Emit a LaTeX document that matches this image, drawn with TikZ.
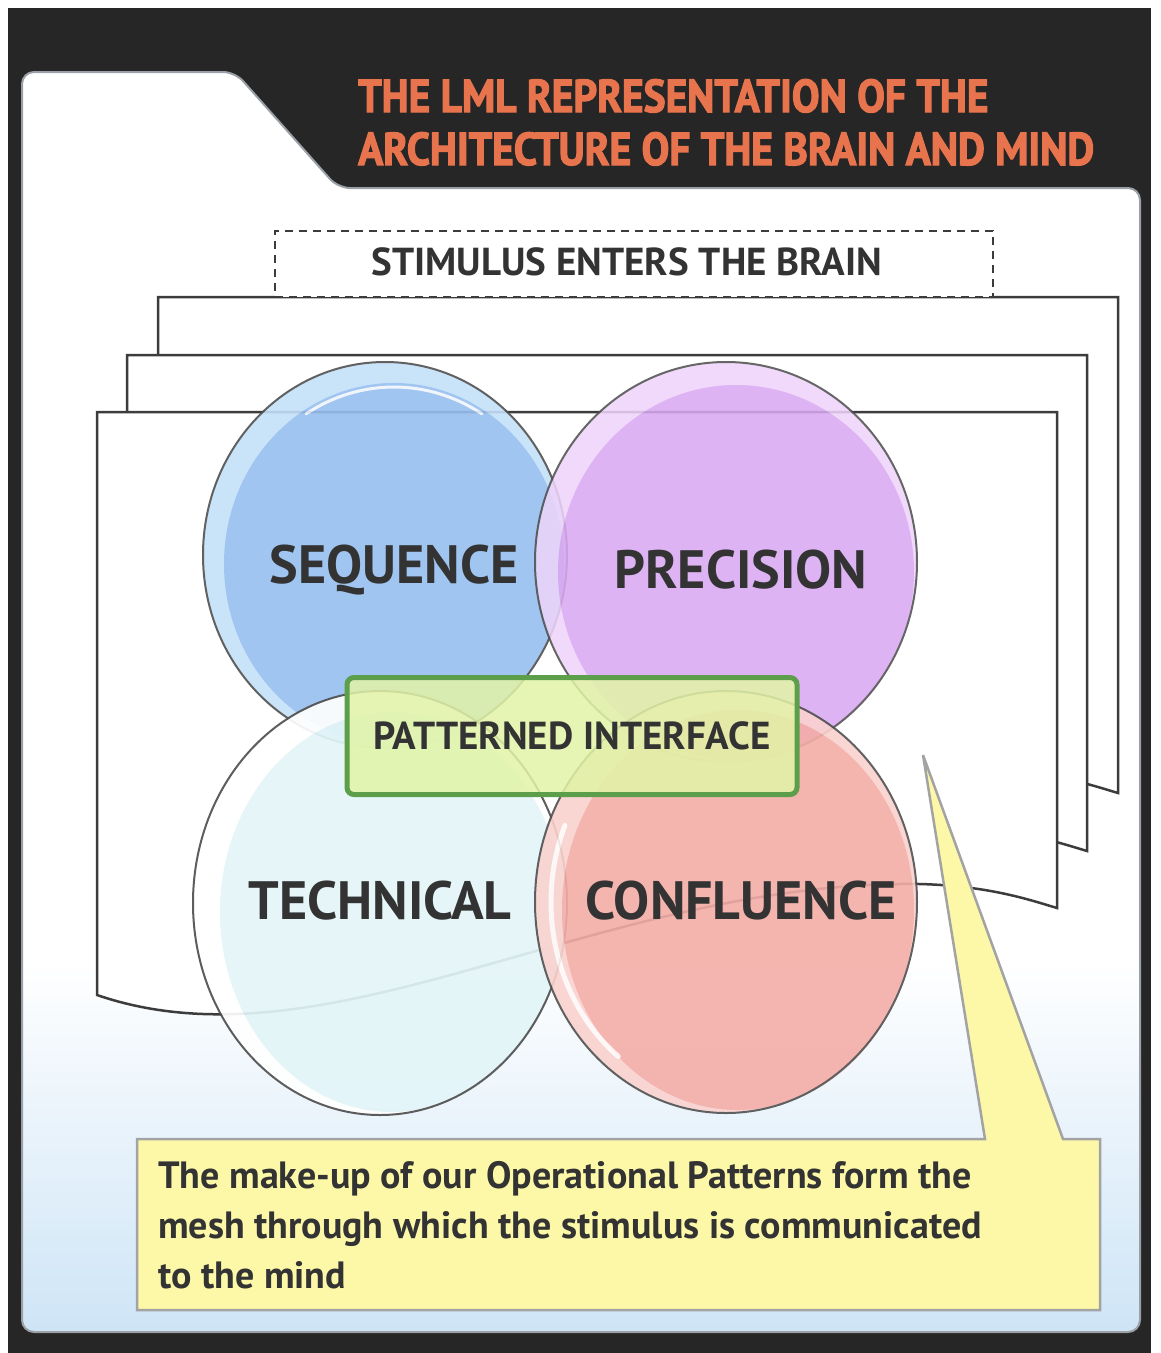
\documentclass[tikz,border=0pt]{standalone}
\usepackage{fontspec}
\setmainfont{PT Sans}
\newfontfamily\headfont{PT Sans}[FakeStretch=0.9, FakeBold=2.5]
\usepackage{tikz}
\usetikzlibrary{positioning, calc}

\definecolor{framedark}{HTML}{262626}
\definecolor{panelline}{HTML}{9AA0A6}
\definecolor{panelblue}{HTML}{CDE4F6}
\definecolor{pageline}{HTML}{3C3C3C}
\definecolor{labelgray}{HTML}{333333}
\definecolor{titleorange}{HTML}{E8744E}
\definecolor{seqblue}{HTML}{96BFF0}
\definecolor{seqlight}{HTML}{C4E0F9}
\definecolor{precpurple}{HTML}{DAA8F2}
\definecolor{preclight}{HTML}{EED4FA}
\definecolor{techcyan}{HTML}{E3F5F8}
\definecolor{confpink}{HTML}{F4ADA7}
\definecolor{conflight}{HTML}{FAD2CE}
\definecolor{ifacegreen}{HTML}{5D9E4B}
\definecolor{ifacefill}{HTML}{E2F4A6}
\definecolor{calloutfill}{HTML}{FCF8A8}
\definecolor{calloutline}{HTML}{A3A3A3}

\begin{document}
\begin{tikzpicture}[x=1pt, y=-1pt,
    page/.style={draw=pageline, line width=2.5pt, fill=white},
    bubble/.style={draw=pageline!90, line width=2pt},
    bubblelabel/.style={font=\fontsize{54}{60}\selectfont\bfseries, text=labelgray, inner sep=0pt},
    heading/.style={font=\headfont\fontsize{46}{50}\selectfont\bfseries, text=titleorange, inner sep=0pt, anchor=base west},
    gloss/.style={white, line width=4pt, line cap=round, opacity=0.85}
]
    \useasboundingbox (0,0) rectangle (1161,1353);

    % Frame and panel
    \fill[framedark] (8,8) rectangle (1151,1353);
    \path[fill=white, rounded corners=12pt] (22,72) -- (235,72) -- (338,188) -- (1140,188)
        -- (1140,1332) -- (22,1332) -- cycle;
    \begin{scope}
        \clip[rounded corners=12pt] (22,72) -- (235,72) -- (338,188) -- (1140,188)
            -- (1140,1332) -- (22,1332) -- cycle;
        \shade[top color=white, bottom color=panelblue] (22,960) rectangle (1140,1340);
    \end{scope}
    \draw[panelline, line width=2pt, rounded corners=12pt] (22,72) -- (235,72) -- (338,188)
        -- (1140,188) -- (1140,1332) -- (22,1332) -- cycle;

    % Title
    \node[heading] (title1) at (358,112) {THE LML REPRESENTATION OF THE};
    \node[heading] (title2) at (358,165) {ARCHITECTURE OF THE BRAIN AND MIND};

    % Stacked pages
    \foreach \dx/\dy in {61/-115, 30/-57, 0/0} {
        \draw[page, shift={(\dx,\dy)}] (97,995) -- (97,412) -- (1057,412) -- (1057,908)
            .. controls (1030,900) and (990,886) .. (920,884)
            .. controls (600,880) and (330,1075) .. (97,995) -- cycle;
    }

    % Stimulus box
    \node[draw=pageline, fill=white, line width=2.5pt, dash pattern=on 8pt off 6pt,
          minimum width=718pt, minimum height=66pt, inner sep=0pt] (stimulus) at (634,264) {};
    \node[font=\fontsize{39}{44}\selectfont\bfseries, text=labelgray] (stimtext) at (627,262)
        {STIMULUS ENTERS THE BRAIN};

    % Sequence
    \begin{scope}[transparency group, opacity=0.9]
        \fill[seqlight] (385,555) ellipse [x radius=182pt, y radius=193pt];
        \fill[seqblue] (394,564) ellipse [x radius=170pt, y radius=181pt];
        \draw[gloss, line width=3pt] ($(394,564)+(122:166pt and 177pt)$)
            arc [start angle=122, end angle=58, x radius=166pt, y radius=177pt];
        \draw[bubble] (385,555) ellipse [x radius=182pt, y radius=193pt];
    \end{scope}

    % Precision
    \begin{scope}[transparency group, opacity=0.87]
        \fill[preclight] (726,562) ellipse [x radius=191pt, y radius=200pt];
        \fill[precpurple] (736,572) ellipse [x radius=178pt, y radius=187pt];
        \draw[bubble] (726,562) ellipse [x radius=191pt, y radius=200pt];
    \end{scope}

    % Technical
    \begin{scope}[transparency group, opacity=0.92]
        \fill[white] (380,903) ellipse [x radius=187pt, y radius=212pt];
        \fill[techcyan] (392,912) ellipse [x radius=172pt, y radius=200pt];
        \draw[bubble] (380,903) ellipse [x radius=187pt, y radius=212pt];
    \end{scope}

    % Confluence
    \begin{scope}[transparency group, opacity=0.9]
        \fill[conflight] (726,902) ellipse [x radius=191pt, y radius=211pt];
        \fill[confpink] (738,910) ellipse [x radius=176pt, y radius=200pt];
        \draw[gloss, line width=5pt] ($(726,902)+(157:175pt and 196pt)$)
            arc [start angle=157, end angle=232, x radius=175pt, y radius=196pt];
        \draw[bubble] (726,902) ellipse [x radius=191pt, y radius=211pt];
    \end{scope}

    \node[bubblelabel] (sequence) at (394,570) {SEQUENCE};
    \node[bubblelabel] (precision) at (741,570) {PRECISION};
    \node[bubblelabel] (technical) at (380,901) {TECHNICAL};
    \node[bubblelabel] (confluence) at (741,901) {CONFLUENCE};

    % Patterned interface
    \node[draw=ifacegreen, line width=5pt, fill=ifacefill, fill opacity=0.85, text opacity=1,
          rounded corners=7pt, minimum width=450pt, minimum height=117pt,
          font=\fontsize{39}{44}\selectfont\bfseries, text=labelgray] (iface) at (572,736)
        {PATTERNED INTERFACE};

    % Callout
    \draw[calloutline, line width=2.5pt, fill=calloutfill] (137,1139) -- (985,1139) -- (923,755)
        -- (1063,1139) -- (1100,1139) -- (1100,1310) -- (137,1310) -- cycle;
    \node[font=\fontsize{38}{50}\selectfont\bfseries, text=labelgray, align=left,
          anchor=north west, inner sep=0pt] (note) at (158,1161)
        {The make-up of our Operational Patterns form the\\
         mesh through which the stimulus is communicated\\
         to the mind};

\end{tikzpicture}
\end{document}
